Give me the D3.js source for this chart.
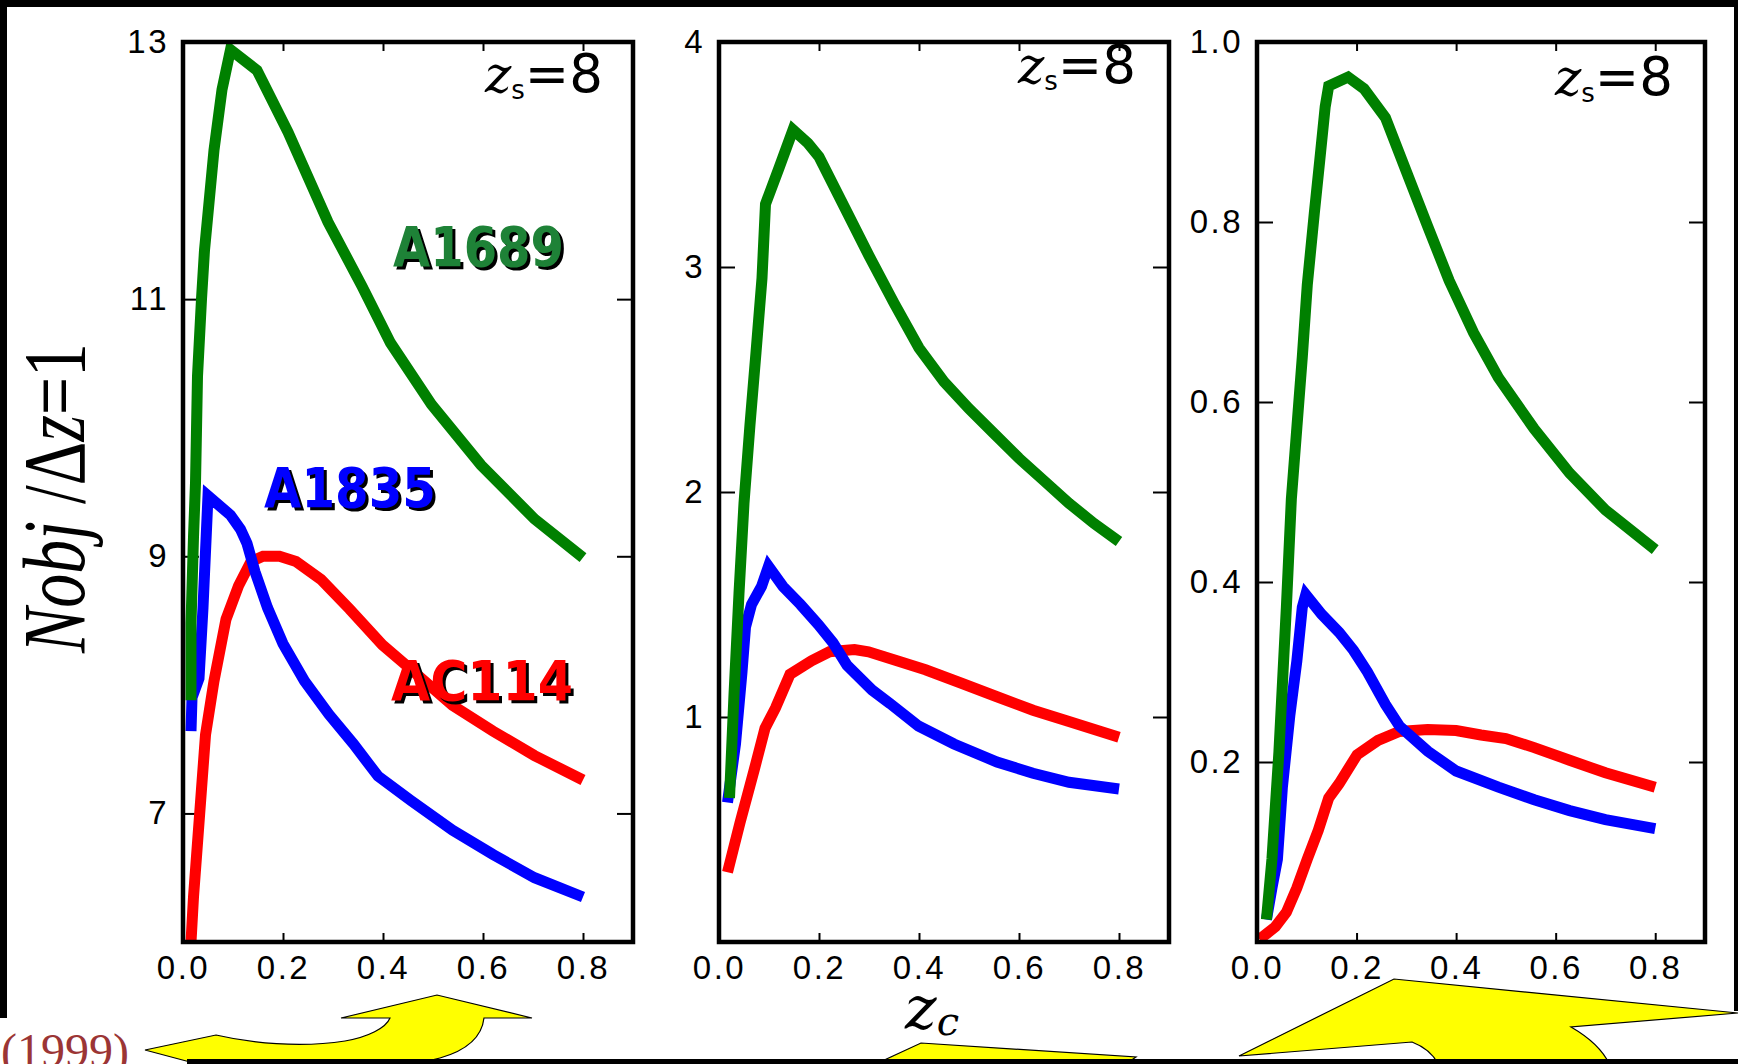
<!DOCTYPE html>
<html><head><meta charset="utf-8">
<script src="https://cdn.jsdelivr.net/npm/d3@7"></script>
<style>body{margin:0;background:#fff;} svg{display:block}</style>
</head><body>
<svg id="c" width="1738" height="1064"></svg>
<script>
// ---------- data ----------
const zcDomain = [0, 0.9];
const xTicks = [0, 0.2, 0.4, 0.6, 0.8];
const zsLabel = "8";
const clusterNames = ["A1689", "A1835", "AC114"];

const p1YDomain = [6, 13];
const p1YTicks = [7, 9, 11, 13];
const p2YDomain = [0, 4];
const p2YTicks = [1, 2, 3, 4];
const p3YDomain = [0, 1];
const p3YTicks = [0.2, 0.4, 0.6, 0.8, 1.0];

// panel 1
const p1A1689 = [[0.016,7.88],[0.016,8.48],[0.021,9.15],[0.025,9.57],[0.029,10.4],[0.037,11.0],[0.043,11.38],[0.062,12.16],[0.078,12.63],[0.095,12.94],[0.148,12.78],[0.21,12.30],[0.29,11.6],[0.358,11.1],[0.415,10.66],[0.497,10.18],[0.596,9.71],[0.703,9.29],[0.80,8.99]];
const p1A1835 = [[0.016,7.64],[0.018,7.9],[0.032,8.05],[0.04,8.6],[0.05,9.47],[0.095,9.32],[0.115,9.21],[0.128,9.1],[0.144,8.88],[0.169,8.6],[0.2,8.32],[0.243,8.03],[0.292,7.77],[0.341,7.54],[0.39,7.29],[0.456,7.1],[0.539,6.87],[0.62,6.68],[0.703,6.5],[0.80,6.35]];
const p1AC114 = [[0.016,6.0],[0.021,6.35],[0.029,6.77],[0.037,7.19],[0.045,7.61],[0.062,8.03],[0.086,8.51],[0.111,8.77],[0.136,8.96],[0.16,9.0],[0.193,9.0],[0.226,8.96],[0.276,8.82],[0.333,8.59],[0.399,8.31],[0.456,8.12],[0.539,7.84],[0.62,7.64],[0.703,7.45],[0.80,7.26]];

// panel 2
const p2A1689 = [[0.021,0.64],[0.03,1.1],[0.04,1.55],[0.05,1.95],[0.062,2.3],[0.074,2.62],[0.086,2.95],[0.093,3.28],[0.12,3.44],[0.148,3.61],[0.178,3.55],[0.2,3.49],[0.25,3.27],[0.3,3.05],[0.35,2.84],[0.4,2.64],[0.45,2.49],[0.5,2.37],[0.55,2.26],[0.6,2.15],[0.65,2.05],[0.7,1.95],[0.75,1.86],[0.80,1.78]];
const p2A1835 = [[0.017,0.62],[0.033,0.88],[0.046,1.2],[0.053,1.40],[0.065,1.50],[0.085,1.58],[0.099,1.67],[0.128,1.58],[0.163,1.50],[0.199,1.41],[0.228,1.33],[0.256,1.23],[0.306,1.12],[0.342,1.06],[0.399,0.96],[0.47,0.88],[0.556,0.80],[0.628,0.75],[0.70,0.71],[0.80,0.68]];
const p2AC114 = [[0.017,0.31],[0.042,0.53],[0.071,0.77],[0.092,0.95],[0.113,1.04],[0.142,1.19],[0.185,1.25],[0.221,1.29],[0.271,1.30],[0.299,1.29],[0.356,1.25],[0.413,1.21],[0.485,1.15],[0.556,1.09],[0.628,1.03],[0.70,0.98],[0.80,0.91]];

// panel 3
const p3A1689 = [[0.019,0.025],[0.03,0.092],[0.044,0.211],[0.059,0.372],[0.069,0.492],[0.08,0.571],[0.091,0.650],[0.101,0.730],[0.115,0.809],[0.126,0.868],[0.137,0.928],[0.144,0.951],[0.183,0.961],[0.215,0.948],[0.258,0.916],[0.30,0.856],[0.343,0.795],[0.386,0.735],[0.435,0.677],[0.485,0.627],[0.557,0.570],[0.628,0.521],[0.70,0.480],[0.80,0.436]];
const p3A1835 = [[0.019,0.025],[0.03,0.06],[0.041,0.092],[0.051,0.172],[0.066,0.252],[0.08,0.312],[0.091,0.372],[0.098,0.386],[0.13,0.364],[0.165,0.344],[0.194,0.324],[0.222,0.30],[0.258,0.264],[0.286,0.240],[0.343,0.212],[0.40,0.19],[0.485,0.172],[0.557,0.158],[0.628,0.146],[0.70,0.136],[0.80,0.126]];
const p3AC114 = [[0.005,0.003],[0.037,0.017],[0.059,0.033],[0.08,0.06],[0.101,0.092],[0.123,0.124],[0.144,0.16],[0.165,0.176],[0.201,0.208],[0.243,0.224],[0.286,0.234],[0.343,0.236],[0.40,0.235],[0.45,0.230],[0.50,0.226],[0.557,0.216],[0.628,0.202],[0.70,0.188],[0.80,0.172]];

// ---------- drawing ----------
const W = 1738, H = 1064;
const svg = d3.select("#c");
svg.append("rect").attr("width", W).attr("height", H).attr("fill", "#fff");

const lineColors = {A1689: "#008000", A1835: "#0000ff", AC114: "#ff0000"};

const panels = [
  {left:183, right:633, top:42, bottom:942, yDomain:p1YDomain, yTicks:p1YTicks, fmt:d3.format("d"),
   data:{AC114:p1AC114, A1835:p1A1835, A1689:p1A1689}, zsX:603, zsY:92},
  {left:719, right:1169, top:42, bottom:942, yDomain:p2YDomain, yTicks:p2YTicks, fmt:d3.format("d"),
   data:{AC114:p2AC114, A1835:p2A1835, A1689:p2A1689}, zsX:1136, zsY:83},
  {left:1257, right:1705, top:42, bottom:942, yDomain:p3YDomain, yTicks:p3YTicks, fmt:d3.format(".1f"),
   data:{AC114:p3AC114, A1835:p3A1835, A1689:p3A1689}, zsX:1673, zsY:95}
];

const tickFont = "'Liberation Sans', Arial, sans-serif";

panels.forEach(p => {
  const x = d3.scaleLinear().domain(zcDomain).range([p.left, p.right]);
  const y = d3.scaleLinear().domain(p.yDomain).range([p.bottom, p.top]);
  const g = svg.append("g");

  const styleAxis = sel => {
    sel.select(".domain").remove();
    sel.selectAll(".tick line").attr("stroke", "#000").attr("stroke-width", 2);
    sel.selectAll(".tick text").attr("fill", "#000")
      .style("font-family", tickFont).style("font-size", "33px").style("letter-spacing", "2.5px");
  };

  g.append("g").attr("transform", `translate(0,${p.bottom})`)
    .call(d3.axisBottom(x).tickValues(xTicks).tickSize(-9).tickPadding(14).tickFormat(d3.format(".1f")))
    .call(styleAxis);
  g.append("g").attr("transform", `translate(0,${p.top})`)
    .call(d3.axisTop(x).tickValues(xTicks).tickSize(-9).tickFormat(""))
    .call(styleAxis);
  g.append("g").attr("transform", `translate(${p.left},0)`)
    .call(d3.axisLeft(y).tickValues(p.yTicks).tickSize(-16).tickPadding(14).tickFormat(p.fmt))
    .call(styleAxis);
  g.append("g").attr("transform", `translate(${p.right},0)`)
    .call(d3.axisRight(y).tickValues(p.yTicks).tickSize(-16).tickFormat(""))
    .call(styleAxis);

  const line = d3.line().x(d => x(d[0])).y(d => y(d[1]));
  ["AC114", "A1835", "A1689"].forEach(k => {
    g.append("path").datum(p.data[k]).attr("d", line)
      .attr("fill", "none").attr("stroke", lineColors[k]).attr("stroke-width", 11)
      .attr("stroke-linejoin", "miter").attr("stroke-miterlimit", 3).attr("stroke-linecap", "butt");
  });

  g.append("rect").attr("x", p.left).attr("y", p.top)
    .attr("width", p.right - p.left).attr("height", p.bottom - p.top)
    .attr("fill", "none").attr("stroke", "#000").attr("stroke-width", 4.5);

  // z_s = 8 label
  const t = g.append("text").attr("x", p.zsX).attr("y", p.zsY).attr("text-anchor", "end").attr("fill", "#000");
  t.append("tspan").text("z").style("font-family", "'DejaVu Serif', serif").style("font-style", "italic").style("font-size", "50px");
  t.append("tspan").text("s").attr("dy", 7).style("font-family", "'DejaVu Sans', sans-serif").style("font-size", "26px");
  t.append("tspan").text("=" + zsLabel).attr("dy", -7).style("font-family", "'DejaVu Sans', sans-serif").style("font-size", "53px");
});

// cluster labels (panel 1)
const labelSpec = [
  {name: clusterNames[0], x: 393, y: 266, len: 171, fill: "#1e8237"},
  {name: clusterNames[1], x: 264, y: 507, len: 172, fill: "#0000ff"},
  {name: clusterNames[2], x: 391, y: 700, len: 182, fill: "#ff0000"}
];
labelSpec.forEach(l => {
  [["#000", 3], [l.fill, 0]].forEach(([c, o]) => {
    svg.append("text").attr("x", l.x + o).attr("y", l.y + o).text(l.name)
      .attr("textLength", l.len).attr("lengthAdjust", "spacingAndGlyphs")
      .attr("fill", c).style("font-family", "'DejaVu Sans', sans-serif")
      .style("font-weight", "bold").style("font-size", "56px");
  });
});

// y-axis title
const yt = svg.append("text").attr("transform", "translate(84,498) rotate(-90)")
  .attr("text-anchor", "middle").attr("textLength", 310).attr("lengthAdjust", "spacingAndGlyphs")
  .style("font-family", "'Liberation Serif', 'Times New Roman', serif").style("font-size", "88px").attr("fill", "#000");
yt.append("tspan").text("N").style("font-style", "italic");
yt.append("tspan").text("obj").style("font-style", "italic");
yt.append("tspan").text(" /\u0394");
yt.append("tspan").text("z").style("font-style", "italic");
yt.append("tspan").text("=1");

// x-axis title
const xt = svg.append("text").attr("x", 905).attr("y", 1029).attr("fill", "#000");
xt.append("tspan").text("z").style("font-family", "'DejaVu Serif', serif").style("font-style", "italic").style("font-size", "60px");
xt.append("tspan").text("c").attr("dy", 6).style("font-family", "'DejaVu Serif', serif").style("font-style", "italic").style("font-size", "40px");

// slide decorations: year fragment and yellow arrows
svg.append("text").attr("x", 1).attr("y", 1067).text("(1999)")
  .attr("fill", "#9b3535").style("font-family", "'Liberation Serif', serif").style("font-size", "48px");

const arrows = [
  "M145,1050 L216,1035 C250,1043 300,1048 345,1041 C368,1037 386,1028 390,1018 L341,1018 L437,995 L532,1018 L484,1018 C482,1036 468,1050 440,1058 C410,1066 380,1070 300,1072 L190,1062 Z",
  "M867,1068 L921,1043 L1136,1057 L1120,1068 Z",
  "M1239,1056 L1394,979 L1738,1013 L1571,1027 C1590,1038 1605,1052 1611,1068 L1440,1068 C1435,1055 1425,1047 1412,1042 Z"
];
arrows.forEach(d => svg.append("path").attr("d", d).attr("fill", "#ffff00").attr("stroke", "#000").attr("stroke-width", 1.2));

// slide frame bands
svg.append("rect").attr("x", 0).attr("y", 0).attr("width", W).attr("height", 7).attr("fill", "#000");
svg.append("rect").attr("x", 0).attr("y", 0).attr("width", 7).attr("height", 1018).attr("fill", "#000");
svg.append("rect").attr("x", 1734).attr("y", 0).attr("width", 4).attr("height", 1011).attr("fill", "#000");
svg.append("rect").attr("x", 187).attr("y", 1059).attr("width", W - 187).attr("height", 5).attr("fill", "#000");
</script>
</body></html>
